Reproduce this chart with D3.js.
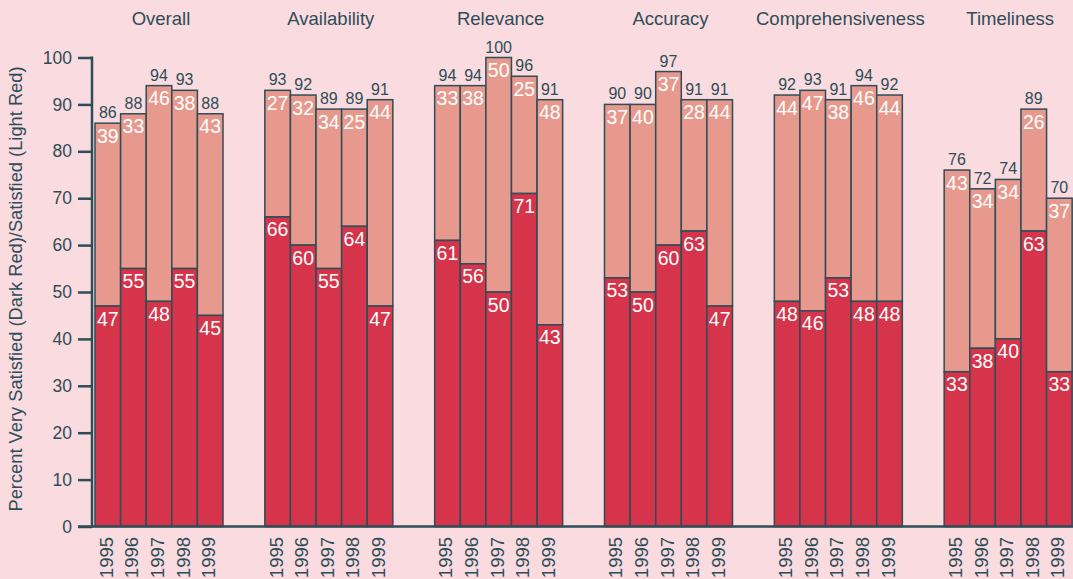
<!DOCTYPE html>
<html>
<head>
<meta charset="utf-8">
<script src="https://cdn.jsdelivr.net/npm/d3@7"></script>
<style>
  html, body { margin: 0; padding: 0; background: #f9dbe0; }
  svg { display: block; font-family: "Liberation Sans", Arial, sans-serif; }
</style>
</head>
<body>
<svg id="chart" width="1073" height="579"></svg>
<script>
// Survey categories and years
const categories = ["Overall", "Availability", "Relevance", "Accuracy", "Comprehensiveness", "Timeliness"];
const years = ["1995", "1996", "1997", "1998", "1999"];

// Percent "very satisfied" (dark segment), one row per category, one value per year
const verySatisfied = [
  [47, 55, 48, 55, 45],
  [66, 60, 55, 64, 47],
  [61, 56, 50, 71, 43],
  [53, 50, 60, 63, 47],
  [48, 46, 53, 48, 48],
  [33, 38, 40, 63, 33]
];

// Percent "satisfied" (light segment stacked on top)
const satisfied = [
  [39, 33, 46, 38, 43],
  [27, 32, 34, 25, 44],
  [33, 38, 50, 25, 48],
  [37, 40, 37, 28, 44],
  [44, 47, 38, 46, 44],
  [43, 34, 34, 26, 37]
];

const yTicks = [0, 10, 20, 30, 40, 50, 60, 70, 80, 90, 100];

const colors = {
  dark: "#d5344a",
  light: "#e8998d",
  ink: "#2e4d57",
  inner: "#ffffff"
};

const svg = d3.select("#chart");
const margin = { left: 92, right: 1, top: 57.5, bottom: 52.5 };
const width = 1073, height = 579;
const plotBottom = height - margin.bottom;

const y = d3.scaleLinear().domain([0, 100]).range([plotBottom, margin.top]);

// Outer band per category, inner band per year
const x0 = d3.scaleBand().domain(categories)
  .range([margin.left + 3, 1073 + 42 - 1]).paddingInner(0).paddingOuter(0);
const groupWidth = 128;
const x1 = d3.scaleBand().domain(years).range([0, groupWidth]).padding(0);

// Flatten into rows
const rows = [];
categories.forEach((c, i) => {
  years.forEach((yr, j) => {
    rows.push({ cat: c, year: yr, vs: verySatisfied[i][j], s: satisfied[i][j] });
  });
});

const g = svg.append("g");

const bar = g.selectAll("g.bar").data(rows).join("g")
  .attr("class", "bar")
  .attr("transform", d => `translate(${x0(d.cat) + x1(d.year)},0)`);

const bw = x1.bandwidth();

// Light (satisfied) segment
bar.append("rect")
  .attr("x", 0)
  .attr("width", bw)
  .attr("y", d => y(d.vs + d.s))
  .attr("height", d => y(d.vs) - y(d.vs + d.s))
  .attr("fill", colors.light)
  .attr("stroke", colors.ink)
  .attr("stroke-width", 1.5);

// Dark (very satisfied) segment
bar.append("rect")
  .attr("x", 0)
  .attr("width", bw)
  .attr("y", d => y(d.vs))
  .attr("height", d => plotBottom - y(d.vs))
  .attr("fill", colors.dark)
  .attr("stroke", colors.ink)
  .attr("stroke-width", 1.5);

// Value labels inside segments
bar.append("text")
  .attr("x", bw / 2)
  .attr("y", d => y(d.vs + d.s) + 19.5)
  .attr("text-anchor", "middle")
  .attr("font-size", 19.5)
  .attr("fill", colors.inner)
  .text(d => d.s);

bar.append("text")
  .attr("x", bw / 2)
  .attr("y", d => y(d.vs) + 19.5)
  .attr("text-anchor", "middle")
  .attr("font-size", 19.5)
  .attr("fill", colors.inner)
  .text(d => d.vs);

// Totals above bars
bar.append("text")
  .attr("x", bw / 2)
  .attr("y", d => y(d.vs + d.s) - 5)
  .attr("text-anchor", "middle")
  .attr("font-size", 16)
  .attr("fill", colors.ink)
  .text(d => d.vs + d.s);

// Year labels, rotated under each bar
bar.append("text")
  .attr("transform", `translate(${bw / 2 + 5},${plotBottom + 10.5}) rotate(-90)`)
  .attr("text-anchor", "end")
  .attr("font-size", 18.5)
  .attr("fill", colors.ink)
  .text(d => d.year);

// Category titles
g.selectAll("text.cat").data(categories).join("text")
  .attr("class", "cat")
  .attr("x", d => x0(d) + groupWidth / 2 + 2)
  .attr("y", 25)
  .attr("text-anchor", "middle")
  .attr("font-size", 18.5)
  .attr("fill", colors.ink)
  .text(d => d);

// Y axis
const yAxis = d3.axisLeft(y).tickValues(yTicks).tickSize(14).tickPadding(6);
const ya = svg.append("g")
  .attr("transform", `translate(${margin.left},0)`)
  .call(yAxis);
ya.select(".domain").remove();
ya.selectAll("line").attr("stroke", colors.ink).attr("stroke-width", 2.5);
ya.selectAll("text").attr("fill", colors.ink).attr("font-size", 17.5)
  .attr("font-family", "Liberation Sans, Arial, sans-serif");

// Axis lines
svg.append("line")
  .attr("x1", margin.left).attr("x2", margin.left)
  .attr("y1", y(100) - 1).attr("y2", plotBottom + 1)
  .attr("stroke", colors.ink).attr("stroke-width", 2.5);
svg.append("line")
  .attr("x1", margin.left - 14).attr("x2", width)
  .attr("y1", plotBottom).attr("y2", plotBottom)
  .attr("stroke", colors.ink).attr("stroke-width", 2.5);

// Y axis title
svg.append("text")
  .attr("transform", `translate(22,${(margin.top + plotBottom) / 2 - 3}) rotate(-90)`)
  .attr("text-anchor", "middle")
  .attr("font-size", 18.3)
  .attr("fill", colors.ink)
  .text("Percent Very Satisfied (Dark Red)/Satisfied (Light Red)");
</script>
</body>
</html>
